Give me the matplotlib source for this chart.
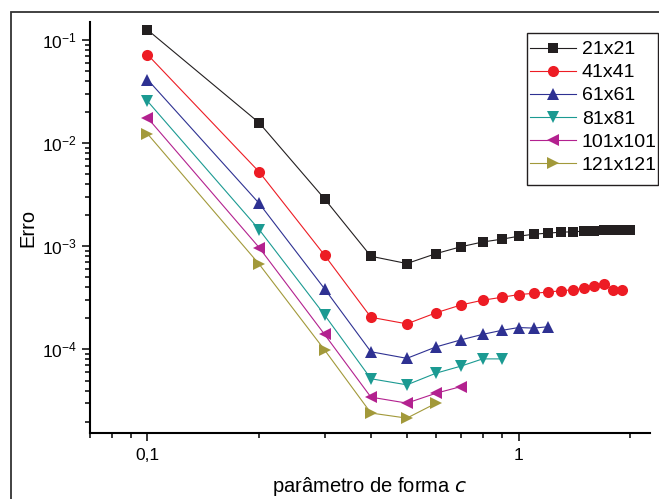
import matplotlib
matplotlib.use("Agg")
import matplotlib.pyplot as plt
from matplotlib.ticker import FixedLocator, FuncFormatter, LogLocator, NullFormatter
from matplotlib.patches import Rectangle
import numpy as np

plt.rcParams['font.family'] = ['Liberation Sans', 'DejaVu Sans']
plt.rcParams['mathtext.default'] = 'regular'

# --- data ---
c_21 = [0.1, 0.2, 0.3, 0.4, 0.5, 0.6, 0.7, 0.8, 0.9, 1.0, 1.1, 1.2, 1.3, 1.4, 1.5, 1.6, 1.7, 1.8, 1.9, 2.0]
e_21 = [0.125, 0.0157, 2.88e-3, 8.0e-4, 6.8e-4, 8.5e-4, 9.9e-4, 1.1e-3, 1.17e-3, 1.25e-3, 1.31e-3, 1.34e-3,
        1.37e-3, 1.38e-3, 1.40e-3, 1.41e-3, 1.43e-3, 1.44e-3, 1.45e-3, 1.45e-3]

c_41 = [0.1, 0.2, 0.3, 0.4, 0.5, 0.6, 0.7, 0.8, 0.9, 1.0, 1.1, 1.2, 1.3, 1.4, 1.5, 1.6, 1.7, 1.8, 1.9]
e_41 = [0.072, 5.25e-3, 8.2e-4, 2.05e-4, 1.77e-4, 2.27e-4, 2.7e-4, 3.0e-4, 3.2e-4, 3.4e-4, 3.5e-4, 3.6e-4,
        3.7e-4, 3.79e-4, 3.9e-4, 4.1e-4, 4.27e-4, 3.8e-4, 3.8e-4]

c_61 = [0.1, 0.2, 0.3, 0.4, 0.5, 0.6, 0.7, 0.8, 0.9, 1.0, 1.1, 1.2]
e_61 = [0.0413, 2.6e-3, 3.87e-4, 9.5e-5, 8.2e-5, 1.06e-4, 1.24e-4, 1.4e-4, 1.53e-4, 1.63e-4, 1.61e-4, 1.66e-4]

c_81 = [0.1, 0.2, 0.3, 0.4, 0.5, 0.6, 0.7, 0.8, 0.9]
e_81 = [0.0255, 1.45e-3, 2.16e-4, 5.2e-5, 4.54e-5, 5.9e-5, 6.9e-5, 8.1e-5, 8.1e-5]

c_101 = [0.1, 0.2, 0.3, 0.4, 0.5, 0.6, 0.7]
e_101 = [0.0176, 9.7e-4, 1.40e-4, 3.45e-5, 3.02e-5, 3.77e-5, 4.37e-5]

c_121 = [0.1, 0.2, 0.3, 0.4, 0.5, 0.6]
e_121 = [0.0123, 6.7e-4, 9.9e-5, 2.42e-5, 2.16e-5, 3.02e-5]

labels = ['21x21', '41x41', '61x61', '81x81', '101x101', '121x121']
colors = ['#231f20', '#ed1c24', '#2e3192', '#1b9a92', '#b3218f', '#a2993a']
markers = ['s', 'o', '^', 'v', '<', '>']
msizes = [7, 8, 8.5, 8.5, 8.5, 8.5]

series = [(c_21, e_21), (c_41, e_41), (c_61, e_61), (c_81, e_81), (c_101, e_101), (c_121, e_121)]

fig = plt.figure(figsize=(6.59, 4.99), dpi=100)
ax = fig.add_axes([90/659, 1 - 433/499, (650 - 90)/659, (433 - 22)/499])

for (x, y), lab, col, mk, ms in zip(series, labels, colors, markers, msizes):
    ax.plot(x, y, color=col, marker=mk, markersize=ms, linewidth=0.8, label=lab,
            markeredgewidth=0)

ax.set_xscale('log')
ax.set_yscale('log')
ax.set_xlim(0.07, 2.26)
ax.set_ylim(1.55e-5, 0.149)

ax.spines['top'].set_visible(False)
ax.spines['right'].set_visible(False)
for s in ['left', 'bottom']:
    ax.spines[s].set_linewidth(1.5)

ax.xaxis.set_major_locator(FixedLocator([0.1, 1]))
ax.xaxis.set_major_formatter(FuncFormatter(lambda v, p: {0.1: '0,1', 1: '1'}.get(round(v, 3), '')))
ax.xaxis.set_minor_locator(FixedLocator([0.07, 0.08, 0.09, 0.2, 0.3, 0.4, 0.5, 0.6, 0.7, 0.8, 0.9, 2.0]))
ax.xaxis.set_minor_formatter(NullFormatter())

ax.yaxis.set_major_locator(LogLocator(base=10, numticks=10))
ax.yaxis.set_minor_locator(LogLocator(base=10, subs=np.arange(2, 10), numticks=10))
ax.yaxis.set_minor_formatter(NullFormatter())

ax.tick_params(which='major', direction='out', length=6, width=1.1, labelsize=12.5, pad=4.5)
ax.tick_params(which='minor', direction='out', length=3.6, width=1.1)
ax.tick_params(axis='y', which='major', pad=3.5)

ax.set_xlabel('parâmetro de forma $\\it{c}$', fontsize=14.5, labelpad=9)
ax.set_ylabel('Erro', fontsize=14.5, labelpad=3)

# legend entries positioned inside a separately drawn frame
leg = ax.legend(loc='upper left', bbox_to_anchor=(522/659, 1 - 33/499), bbox_transform=fig.transFigure,
                fontsize=14, frameon=False,
                borderpad=0.4, handlelength=2.37, handletextpad=0.3, labelspacing=0.28,
                borderaxespad=0)

fig.patches.append(Rectangle((527/659, 1 - 185/499), (658 - 527)/659, (185 - 33)/499,
                             transform=fig.transFigure, fill=False, edgecolor='#231f20',
                             linewidth=1.0, figure=fig, zorder=5))

fig.patches.append(Rectangle((11/659, -0.2), 1.2, 0.2 + 1 - 12/499, transform=fig.transFigure,
                             fill=False, edgecolor='#333333', linewidth=1.3, figure=fig))

fig.savefig('out.png', dpi=100)
